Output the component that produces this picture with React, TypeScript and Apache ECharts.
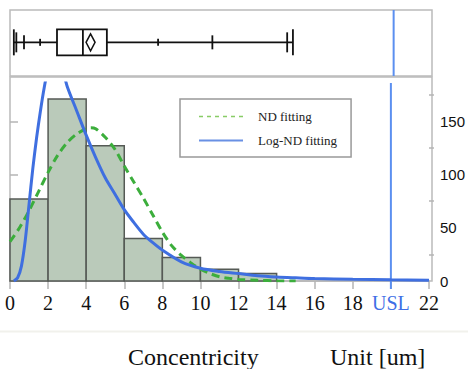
import React, { useEffect, useRef } from "react";
import * as echarts from "echarts";

// Histogram bins (start, end) and counts
const binStarts = [0, 2, 4, 6, 8, 10, 12];
const binEnds = [2, 4, 6, 8, 10, 12, 14];
const binCounts = [77, 171, 127, 40, 22, 11, 7];

// ND fitting curve
const ndX = [0, 0.5, 1, 1.5, 2, 2.5, 3, 3.5, 4, 4.25, 4.5, 5, 5.5, 6, 6.5, 7, 7.5, 8, 8.5, 9, 9.5, 10, 10.5, 11, 11.5, 12, 13, 14, 15];
const ndY = [37, 50, 66, 84, 102, 118, 130, 138, 143, 144, 143, 135, 124, 108, 93, 78, 62, 46, 33, 24, 17, 11, 7, 4, 2.5, 1.5, 0.6, 0.2, 0];

// Log-ND fitting curve
const lnX = [0.2, 0.4, 0.6, 0.8, 1.0, 1.2, 1.4, 1.6, 1.8, 2.0, 2.2, 2.4, 2.6, 2.8, 3.0, 3.5, 4.0, 4.5, 5.0, 5.5, 6.0, 6.5, 7.0, 7.5, 8.0, 9, 10, 11, 12, 13, 14, 15, 16, 18, 20, 22];
const lnY = [0, 3, 14, 38, 72, 106, 135, 160, 182, 200, 212, 216, 210, 197, 183, 160, 137, 116, 97, 82, 67, 55, 44, 36, 29, 18, 12, 9, 7, 5, 3.8, 3, 2.3, 1.6, 1.1, 0.8];

// Box plot statistics
const boxEnds = [0.2, 14.75];
const boxOuter = [0.33, 14.45];
const boxMid = [0.73, 10.55];
const boxInner = [1.57, 7.72];
const boxQuart = [2.45, 3.8, 5.05]; // Q1, median, Q3
const boxMean = [4.2];

const usl = 20;
const yMajor = [0, 50, 100, 150];
const yMinor = [25, 75, 125, 175];

const SERIF = "Liberation Serif, Times New Roman, serif";
const SANS = "Liberation Sans, Arial, sans-serif";

export default function App() {
  const ref = useRef<HTMLDivElement>(null);
  useEffect(() => {
    if (!ref.current) return;
    const chart = echarts.init(ref.current, null, { renderer: "svg" });
    const bars = binStarts.map((s, i) => [s, binEnds[i], binCounts[i]]);
    const nd = ndX.map((x, i) => [x, ndY[i]]);
    const ln = lnX.map((x, i) => [x, lnY[i]]);
    const hidden = { color: "rgba(0,0,0,0)", borderColor: "rgba(0,0,0,0)", borderWidth: 0, opacity: 0 };

    const option: any = {
      animation: false,
      grid: [
        { left: 10, right: 36, top: 10, height: 66, show: true, borderColor: "#bbb", borderWidth: 1.5, backgroundColor: "transparent" },
        { left: 10, right: 36, top: 83, height: 198, show: false },
      ],
      xAxis: [
        { gridIndex: 0, type: "value", min: 0, max: 22, show: false },
        {
          gridIndex: 1, type: "value", min: 0, max: 22, interval: 2,
          axisLine: { show: true, lineStyle: { color: "#b5b5b5", width: 1.5 } },
          axisTick: { show: true, length: 8, lineStyle: { color: "#b5b5b5", width: 1.5 } },
          splitLine: { show: false },
          axisLabel: {
            margin: 12,
            fontFamily: SERIF, fontSize: 20, color: "#111",
            formatter: (v: number) => (v === usl ? "{u|USL}" : String(v)),
            rich: { u: { fontFamily: SERIF, fontSize: 20, color: "#3f6fe6" } },
          },
        },
      ],
      yAxis: [
        { gridIndex: 0, type: "value", min: 0, max: 1, show: false },
        {
          gridIndex: 1, type: "value", min: 0, max: 186, position: "right",
          axisLine: { show: false },
          axisTick: { show: true, length: 8, customValues: yMajor, lineStyle: { color: "#b5b5b5", width: 1.5 } },
          axisLabel: { customValues: yMajor, margin: 11, fontFamily: SANS, fontSize: 15, color: "#111" },
          splitLine: { show: false },
        },
        {
          gridIndex: 1, type: "value", min: 0, max: 186, position: "right",
          axisLine: { show: false },
          axisTick: { show: true, length: 5, customValues: yMinor, lineStyle: { color: "#b5b5b5", width: 1.5 } },
          axisLabel: { show: false },
          splitLine: { show: false },
        },
      ],
      legend: {
        left: 180, top: 99, orient: "vertical",
        padding: [11, 14, 10, 18], itemGap: 11, itemWidth: 44, itemHeight: 14,
        borderColor: "#999", borderWidth: 1.5, backgroundColor: "#fff",
        itemStyle: hidden,
        textStyle: { fontFamily: SERIF, fontSize: 13, color: "#222", padding: [0, 0, 0, 10] },
        data: [
          { name: "ND fitting", itemStyle: hidden, lineStyle: { width: 1.5, color: "#88cc66", type: [4, 4] } },
          { name: "Log-ND fitting", itemStyle: hidden, lineStyle: { width: 2, color: "#6990e4" } },
        ],
      },
      graphic: [
        { type: "rect", shape: { x: 10, y: 77, width: 422, height: 204 }, style: { fill: "none", stroke: "#bbb", lineWidth: 1.5 }, z: -1 },
        { type: "line", shape: { x1: 0, y1: 331.5, x2: 468, y2: 331.5 }, style: { stroke: "#f1f1ec", lineWidth: 2 } },
        { type: "text", x: 128, y: 357, style: { text: "Concentricity", fontFamily: SERIF, fontSize: 24, fill: "#111", verticalAlign: "middle" } },
        { type: "text", x: 330, y: 357, style: { text: "Unit [um]", fontFamily: SERIF, fontSize: 24, fill: "#111", verticalAlign: "middle" } },
      ],
      series: [
        {
          type: "custom", name: "hist", xAxisIndex: 1, yAxisIndex: 1,
          encode: { x: [0, 1], y: 2 },
          data: bars,
          renderItem: (params: any, api: any) => {
            const p0 = api.coord([api.value(0), api.value(2)]);
            const p1 = api.coord([api.value(1), 0]);
            return {
              type: "rect",
              shape: { x: p0[0], y: p0[1], width: p1[0] - p0[0], height: p1[1] - p0[1] },
              style: { fill: "#bacaba", stroke: "#555a55", lineWidth: 1.5 },
            };
          },
          z: 1,
        },
        {
          type: "line", name: "ND fitting", xAxisIndex: 1, yAxisIndex: 1,
          data: nd, smooth: 0.3, symbol: "none",
          lineStyle: { color: "#3cae3c", width: 3, type: [8, 5] },
          itemStyle: { color: "#3cae3c" },
          z: 3,
        },
        {
          type: "line", name: "Log-ND fitting", xAxisIndex: 1, yAxisIndex: 1,
          data: ln, smooth: 0.3, symbol: "none", clip: true,
          lineStyle: { color: "#3f6fe0", width: 3 },
          itemStyle: { color: "#3f6fe0" },
          z: 4,
        },
        {
          type: "line", name: "usl-bottom", xAxisIndex: 1, yAxisIndex: 1,
          data: [[usl, -7.5], [usl, 186]], symbol: "none", clip: false,
          lineStyle: { color: "#5b8ff0", width: 2 }, z: 2,
        },
        {
          type: "line", name: "usl-top", xAxisIndex: 0, yAxisIndex: 0,
          data: [[usl, 0], [usl, 1]], symbol: "none",
          lineStyle: { color: "#5b8ff0", width: 2 }, z: 2,
        },
        {
          type: "custom", name: "box", xAxisIndex: 0, yAxisIndex: 0,
          data: [[boxQuart[1], 0.5]],
          encode: { x: 0, y: 1 },
          renderItem: (params: any, api: any) => {
            const cy = api.coord([0, 0.51])[1];
            const X = (v: number) => api.coord([v, 0.5])[0];
            const stroke = "#111";
            const tick = (v: number, h: number) => ({
              type: "line", shape: { x1: X(v), y1: cy - h / 2, x2: X(v), y2: cy + h / 2 },
              style: { stroke, lineWidth: 1.8 },
            });
            const children: any[] = [];
            children.push({ type: "line", shape: { x1: X(boxEnds[0]), y1: cy, x2: X(boxEnds[1]), y2: cy }, style: { stroke, lineWidth: 1.8 } });
            boxEnds.forEach((v) => children.push(tick(v, 26)));
            boxOuter.forEach((v) => children.push(tick(v, 20)));
            boxMid.forEach((v) => children.push(tick(v, 14)));
            boxInner.forEach((v) => children.push(tick(v, 7)));
            const q1 = X(boxQuart[0]), md = X(boxQuart[1]), q3 = X(boxQuart[2]);
            children.push({ type: "rect", shape: { x: q1, y: cy - 13, width: q3 - q1, height: 26 }, style: { fill: "#fff", stroke, lineWidth: 1.8 } });
            children.push({ type: "line", shape: { x1: md, y1: cy - 13, x2: md, y2: cy + 13 }, style: { stroke, lineWidth: 1.8 } });
            const mx = X(boxMean[0]);
            children.push({
              type: "polygon",
              shape: { points: [[mx, cy - 8.5], [mx + 4.5, cy], [mx, cy + 8.5], [mx - 4.5, cy]] },
              style: { fill: "none", stroke, lineWidth: 1.5 },
            });
            return { type: "group", children };
          },
          z: 5,
        },
      ],
    };
    chart.setOption(option);
    return () => chart.dispose();
  }, []);
  return <div ref={ref} style={{ position: "absolute", left: 0, top: 0, width: 468, height: 369 }} />;
}
